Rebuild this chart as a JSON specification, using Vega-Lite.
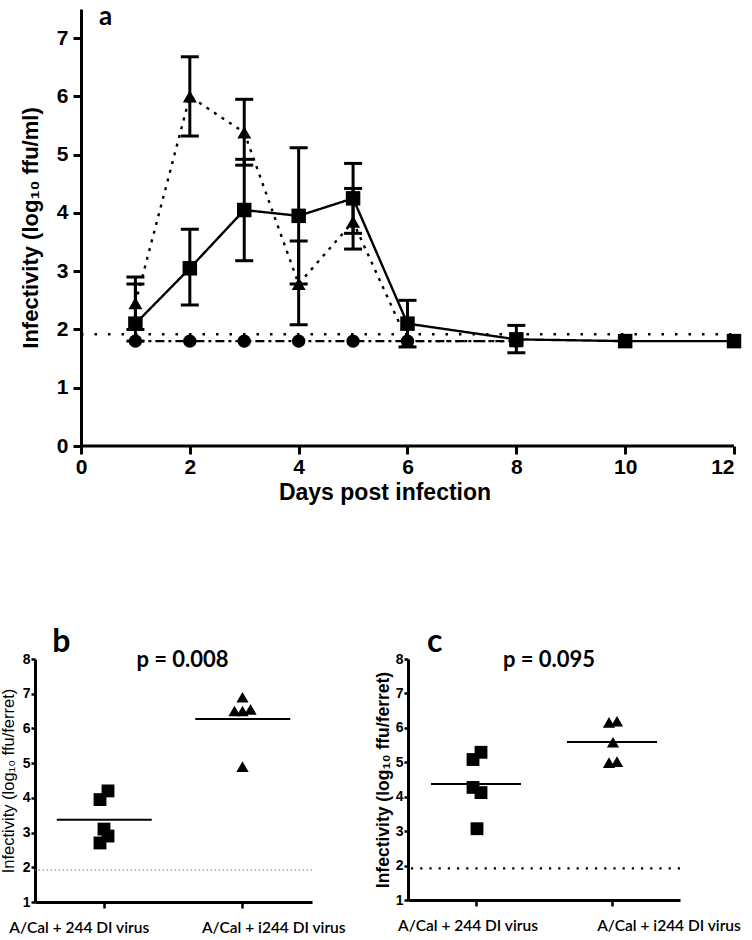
{
  "$schema": "https://vega.github.io/schema/vega-lite/v6.json",
  "background": "white",
  "padding": {"left": 0, "top": 3, "right": 4, "bottom": 2},
  "config": {
    "view": {"stroke": null},
    "font": "Liberation Sans",
    "axis": {"grid": false, "labelOverlap": false, "labelSeparation": 0, "domainColor": "black", "tickColor": "black", "labelColor": "black", "titleColor": "black"}
  },
  "spacing": 122,
  "vconcat": [
    {
      "width": 699,
      "height": 437,
      "data": {"values": [
        {"series": "sq", "day": 1, "mean": 2.1, "lo": 1.8, "hi": 2.78},
        {"series": "sq", "day": 2, "mean": 3.05, "lo": 2.42, "hi": 3.72},
        {"series": "sq", "day": 3, "mean": 4.05, "lo": 3.18, "hi": 4.92},
        {"series": "sq", "day": 4, "mean": 3.95, "lo": 2.78, "hi": 5.12},
        {"series": "sq", "day": 5, "mean": 4.25, "lo": 3.65, "hi": 4.85},
        {"series": "sq", "day": 6, "mean": 2.1, "lo": 1.7, "hi": 2.5},
        {"series": "sq", "day": 8, "mean": 1.83, "lo": 1.6, "hi": 2.07},
        {"series": "sq", "day": 10, "mean": 1.8, "lo": null, "hi": null},
        {"series": "sq", "day": 12, "mean": 1.8, "lo": null, "hi": null},
        {"series": "tri", "day": 1, "mean": 2.45, "lo": 2.0, "hi": 2.9},
        {"series": "tri", "day": 2, "mean": 6.0, "lo": 5.32, "hi": 6.68},
        {"series": "tri", "day": 3, "mean": 5.38, "lo": 4.82, "hi": 5.95},
        {"series": "tri", "day": 4, "mean": 2.78, "lo": 2.08, "hi": 3.52},
        {"series": "tri", "day": 5, "mean": 3.85, "lo": 3.38, "hi": 4.42},
        {"series": "tri", "day": 6, "mean": 1.8, "lo": null, "hi": null},
        {"series": "tri", "day": 8, "mean": 1.8, "lo": null, "hi": null},
        {"series": "cir", "day": 1, "mean": 1.8, "lo": null, "hi": null},
        {"series": "cir", "day": 2, "mean": 1.8, "lo": null, "hi": null},
        {"series": "cir", "day": 3, "mean": 1.8, "lo": null, "hi": null},
        {"series": "cir", "day": 4, "mean": 1.8, "lo": null, "hi": null},
        {"series": "cir", "day": 5, "mean": 1.8, "lo": null, "hi": null},
        {"series": "cir", "day": 6, "mean": 1.8, "lo": null, "hi": null},
        {"series": "cir", "day": 8, "mean": 1.8, "lo": null, "hi": null}
      ]},
      "layer": [
        {
          "data": {"values": [{"limit": 1.92}]},
          "mark": {"type": "rule", "color": "black", "strokeWidth": 2.5, "strokeDash": [2.5, 11]},
          "encoding": {
            "y": {"field": "limit", "type": "quantitative",
                  "scale": {"domain": [0, 7.5], "nice": false},
                  "axis": {"values": [0, 1, 2, 3, 4, 5, 6, 7], "format": "d", "title": "Infectivity (log₁₀ ffu/ml)", "offset": -46,
                           "labelFontSize": 21, "labelFontWeight": "bold", "titleFontSize": 22, "titleFontWeight": "bold",
                           "tickSize": 8, "tickWidth": 3, "domainWidth": 3, "labelPadding": 5, "titlePadding": 14}},
            "x": {"datum": 0, "type": "quantitative",
                  "scale": {"domain": [-0.845, 12], "nice": false, "zero": false},
                  "axis": {"values": [0, 2, 4, 6, 8, 10, 12], "format": "d", "title": "Days post infection", "domain": false,
                           "labelFontSize": 21, "labelFontWeight": "bold", "titleFontSize": 23, "titleFontWeight": "bold",
                           "tickSize": 8, "tickWidth": 3, "labelPadding": 2, "titlePadding": 4}},
            "x2": {"datum": 12}
          }
        },
        {
          "data": {"values": [{"base": 0}]},
          "mark": {"type": "rule", "color": "black", "strokeWidth": 3},
          "encoding": {
            "y": {"field": "base", "type": "quantitative"},
            "x": {"datum": 0, "type": "quantitative"},
            "x2": {"datum": 12}
          }
        },
        {
          "mark": {"type": "line", "color": "black", "strokeWidth": 2.4},
          "encoding": {
            "x": {"field": "day", "type": "quantitative"},
            "y": {"field": "mean", "type": "quantitative"},
            "detail": {"field": "series"},
            "strokeDash": {"field": "series", "type": "nominal", "legend": null,
                           "scale": {"domain": ["sq", "tri", "cir"], "range": [[1, 0], [3, 6], [9, 4, 3, 4]]}}
          }
        },
        {
          "transform": [{"filter": "datum.lo != null"}],
          "mark": {"type": "rule", "color": "black", "strokeWidth": 3},
          "encoding": {
            "x": {"field": "day", "type": "quantitative"},
            "y": {"field": "lo", "type": "quantitative"},
            "y2": {"field": "hi"}
          }
        },
        {
          "transform": [{"filter": "datum.lo != null"}],
          "mark": {"type": "tick", "orient": "horizontal", "color": "black", "size": 18, "thickness": 3, "opacity": 1},
          "encoding": {
            "x": {"field": "day", "type": "quantitative"},
            "y": {"field": "lo", "type": "quantitative"}
          }
        },
        {
          "transform": [{"filter": "datum.lo != null"}],
          "mark": {"type": "tick", "orient": "horizontal", "color": "black", "size": 18, "thickness": 3, "opacity": 1},
          "encoding": {
            "x": {"field": "day", "type": "quantitative"},
            "y": {"field": "hi", "type": "quantitative"}
          }
        },
        {
          "mark": {"type": "point", "filled": true, "color": "black", "opacity": 1},
          "encoding": {
            "x": {"field": "day", "type": "quantitative"},
            "y": {"field": "mean", "type": "quantitative"},
            "shape": {"field": "series", "type": "nominal", "legend": null,
                      "scale": {"domain": ["sq", "tri", "cir"], "range": ["square", "triangle-up", "circle"]}},
            "size": {"field": "series", "type": "nominal", "legend": null,
                     "scale": {"domain": ["sq", "tri", "cir"], "range": [210, 150, 150]}}
          }
        },
        {
          "data": {"values": [{"label": "a"}]},
          "mark": {"type": "text", "font": "Lato", "fontSize": 26, "fontWeight": "bold", "align": "left", "baseline": "alphabetic", "color": "black"},
          "encoding": {
            "x": {"datum": 0.33, "type": "quantitative"},
            "y": {"datum": 7.23, "type": "quantitative"},
            "text": {"field": "label"}
          }
        }
      ]
    },
    {
      "spacing": 28,
      "hconcat": [
        {
          "width": 277,
          "height": 243,
          "title": {"text": "p = 0.008", "font": "Lato", "fontSize": 22, "fontWeight": "bold", "anchor": "middle", "offset": -46, "dx": 9, "color": "black"},
          "data": {"values": [
            {"group": "A/Cal + 244 DI virus", "rep": "L", "value": 3.95},
            {"group": "A/Cal + 244 DI virus", "rep": "R", "value": 4.2},
            {"group": "A/Cal + 244 DI virus", "rep": "M", "value": 3.1},
            {"group": "A/Cal + 244 DI virus", "rep": "R", "value": 2.9},
            {"group": "A/Cal + 244 DI virus", "rep": "L", "value": 2.7},
            {"group": "A/Cal + i244 DI virus", "rep": "M", "value": 6.9},
            {"group": "A/Cal + i244 DI virus", "rep": "L2", "value": 6.5},
            {"group": "A/Cal + i244 DI virus", "rep": "M", "value": 6.5},
            {"group": "A/Cal + i244 DI virus", "rep": "R2", "value": 6.55},
            {"group": "A/Cal + i244 DI virus", "rep": "M", "value": 4.9}
          ]},
          "layer": [
            {
              "data": {"values": [{"limit": 1.92}]},
              "mark": {"type": "rule", "color": "#777777", "strokeWidth": 1, "strokeDash": [1.5, 2.5]},
              "encoding": {"y": {"field": "limit", "type": "quantitative", "scale": {"domain": [1, 8], "nice": false},
                      "axis": {"values": [1, 2, 3, 4, 5, 6, 7, 8], "format": "d", "labelOverlap": false, "labelFlush": false, "title": "Infectivity (log₁₀ ffu/ferret)",
                               "labelFontSize": 14, "labelFontWeight": "bold",
                               "titleFontSize": 16.5, "titleFontWeight": "normal", "tickSize": 4, "tickWidth": 2.5, "domainWidth": 3,
                               "labelPadding": 1, "titlePadding": 6}}}
            },
            {
              "mark": {"type": "tick", "color": "black", "size": 95, "thickness": 2, "opacity": 1},
              "encoding": {
                "x": {"field": "group", "type": "nominal", "sort": null,
                      "scale": {"type": "band", "paddingInner": 0, "paddingOuter": 0},
                      "axis": {"title": null, "labelAngle": 0, "bandPosition": 0.5, "labelFont": "Lato", "labelFontSize": 15.5, "labelFontWeight": 600,
                               "tickSize": 6, "tickWidth": 2.5, "domainWidth": 3, "labelPadding": 12,
                               "labelOffset": {"condition": {"test": "datum.value == 'A/Cal + 244 DI virus'", "value": -25}, "value": 31}}},
                "y": {"aggregate": "mean", "field": "value", "type": "quantitative",
                      "axis": {"values": [1, 2, 3, 4, 5, 6, 7, 8], "format": "d", "labelOverlap": false, "labelFlush": false, "title": "Infectivity (log₁₀ ffu/ferret)",
                               "labelFontSize": 14, "labelFontWeight": "bold",
                               "titleFontSize": 16.5, "titleFontWeight": "normal", "tickSize": 4, "tickWidth": 2.5, "domainWidth": 3,
                               "labelPadding": 1, "titlePadding": 6}}
              }
            },
            {
              "mark": {"type": "point", "filled": true, "color": "black", "opacity": 1},
              "encoding": {
                "x": {"field": "group", "type": "nominal", "sort": null},
                "xOffset": {"field": "rep", "type": "nominal", "scale": {"type": "point", "domain": ["L2", "L", "M", "R", "R2"], "range": [59, 79]}},
                "y": {"field": "value", "type": "quantitative",
                      "axis": {"values": [1, 2, 3, 4, 5, 6, 7, 8], "format": "d", "labelOverlap": false, "labelFlush": false, "title": "Infectivity (log₁₀ ffu/ferret)",
                               "labelFontSize": 14, "labelFontWeight": "bold",
                               "titleFontSize": 16.5, "titleFontWeight": "normal", "tickSize": 4, "tickWidth": 2.5, "domainWidth": 3,
                               "labelPadding": 1, "titlePadding": 6}},
                "shape": {"field": "group", "type": "nominal", "legend": null,
                          "scale": {"domain": ["A/Cal + 244 DI virus", "A/Cal + i244 DI virus"], "range": ["square", "triangle-up"]}},
                "size": {"field": "group", "type": "nominal", "legend": null,
                         "scale": {"domain": ["A/Cal + 244 DI virus", "A/Cal + i244 DI virus"], "range": [75, 75]}}
              }
            },
            {
              "data": {"values": [{"label": "b"}]},
              "mark": {"type": "text", "font": "Lato", "fontSize": 32, "fontWeight": "bold", "align": "left", "baseline": "alphabetic", "color": "black", "dx": -52},
              "encoding": {
                "x": {"datum": "A/Cal + 244 DI virus", "type": "nominal"},
                "y": {"datum": 8.2, "type": "quantitative",
                      "axis": {"values": [1, 2, 3, 4, 5, 6, 7, 8], "format": "d", "labelOverlap": false, "labelFlush": false, "title": "Infectivity (log₁₀ ffu/ferret)",
                               "labelFontSize": 14, "labelFontWeight": "bold",
                               "titleFontSize": 16.5, "titleFontWeight": "normal", "tickSize": 4, "tickWidth": 2.5, "domainWidth": 3,
                               "labelPadding": 1, "titlePadding": 6}},
                "text": {"field": "label"}
              }
            }
          ]
        },
        {
          "width": 272,
          "height": 241,
          "title": {"text": "p = 0.095", "font": "Lato", "fontSize": 22, "fontWeight": "bold", "anchor": "middle", "offset": -46, "dx": 5, "color": "black"},
          "data": {"values": [
            {"group": "A/Cal + 244 DI virus", "rep": "L", "value": 5.08},
            {"group": "A/Cal + 244 DI virus", "rep": "R", "value": 5.29},
            {"group": "A/Cal + 244 DI virus", "rep": "L", "value": 4.27},
            {"group": "A/Cal + 244 DI virus", "rep": "R", "value": 4.12},
            {"group": "A/Cal + 244 DI virus", "rep": "M", "value": 3.07},
            {"group": "A/Cal + i244 DI virus", "rep": "L", "value": 6.16},
            {"group": "A/Cal + i244 DI virus", "rep": "R", "value": 6.19},
            {"group": "A/Cal + i244 DI virus", "rep": "M", "value": 5.58},
            {"group": "A/Cal + i244 DI virus", "rep": "L", "value": 4.99},
            {"group": "A/Cal + i244 DI virus", "rep": "R", "value": 5.02}
          ]},
          "layer": [
            {
              "data": {"values": [{"limit": 1.92}]},
              "mark": {"type": "rule", "color": "black", "strokeWidth": 2.2, "strokeDash": [2.2, 7]},
              "encoding": {"y": {"field": "limit", "type": "quantitative", "scale": {"domain": [1, 8], "nice": false},
                      "axis": {"tickCount": 8, "format": "d", "labelOverlap": false, "labelFlush": false, "title": "Infectivity (log₁₀ ffu/ferret)",
                               "labelFontSize": 14, "labelFontWeight": "bold",
                               "titleFontSize": 17.5, "titleFontWeight": "bold", "tickSize": 4, "tickWidth": 2.5, "domainWidth": 3,
                               "labelPadding": 1, "titlePadding": 3}}}
            },
            {
              "mark": {"type": "tick", "color": "black", "size": 90, "thickness": 2, "opacity": 1},
              "encoding": {
                "x": {"field": "group", "type": "nominal", "sort": null,
                      "scale": {"type": "band", "paddingInner": 0, "paddingOuter": 0},
                      "axis": {"title": null, "labelAngle": 0, "bandPosition": 0.5, "labelFont": "Lato", "labelFontSize": 15.5, "labelFontWeight": 600,
                               "tickSize": 6, "tickWidth": 2.5, "domainWidth": 3, "labelPadding": 12,
                               "labelOffset": {"condition": {"test": "datum.value == 'A/Cal + 244 DI virus'", "value": -8}, "value": 57}}},
                "y": {"aggregate": "mean", "field": "value", "type": "quantitative", "title": "Infectivity (log₁₀ ffu/ferret)"}
              }
            },
            {
              "mark": {"type": "point", "filled": true, "color": "black", "opacity": 1},
              "encoding": {
                "x": {"field": "group", "type": "nominal", "sort": null},
                "xOffset": {"field": "rep", "type": "nominal", "scale": {"type": "point", "domain": ["L2", "L", "M", "R", "R2"], "range": [58, 78]}},
                "y": {"field": "value", "type": "quantitative", "title": "Infectivity (log₁₀ ffu/ferret)"},
                "shape": {"field": "group", "type": "nominal", "legend": null,
                          "scale": {"domain": ["A/Cal + 244 DI virus", "A/Cal + i244 DI virus"], "range": ["square", "triangle-up"]}},
                "size": {"field": "group", "type": "nominal", "legend": null,
                         "scale": {"domain": ["A/Cal + 244 DI virus", "A/Cal + i244 DI virus"], "range": [100, 85]}}
              }
            },
            {
              "data": {"values": [{"label": "c"}]},
              "mark": {"type": "text", "font": "Lato", "fontSize": 32, "fontWeight": "bold", "align": "left", "baseline": "alphabetic", "color": "black", "dx": -49},
              "encoding": {
                "x": {"datum": "A/Cal + 244 DI virus", "type": "nominal"},
                "y": {"datum": 8.2, "type": "quantitative", "title": "Infectivity (log₁₀ ffu/ferret)"},
                "text": {"field": "label"}
              }
            }
          ]
        }
      ]
    }
  ]
}
